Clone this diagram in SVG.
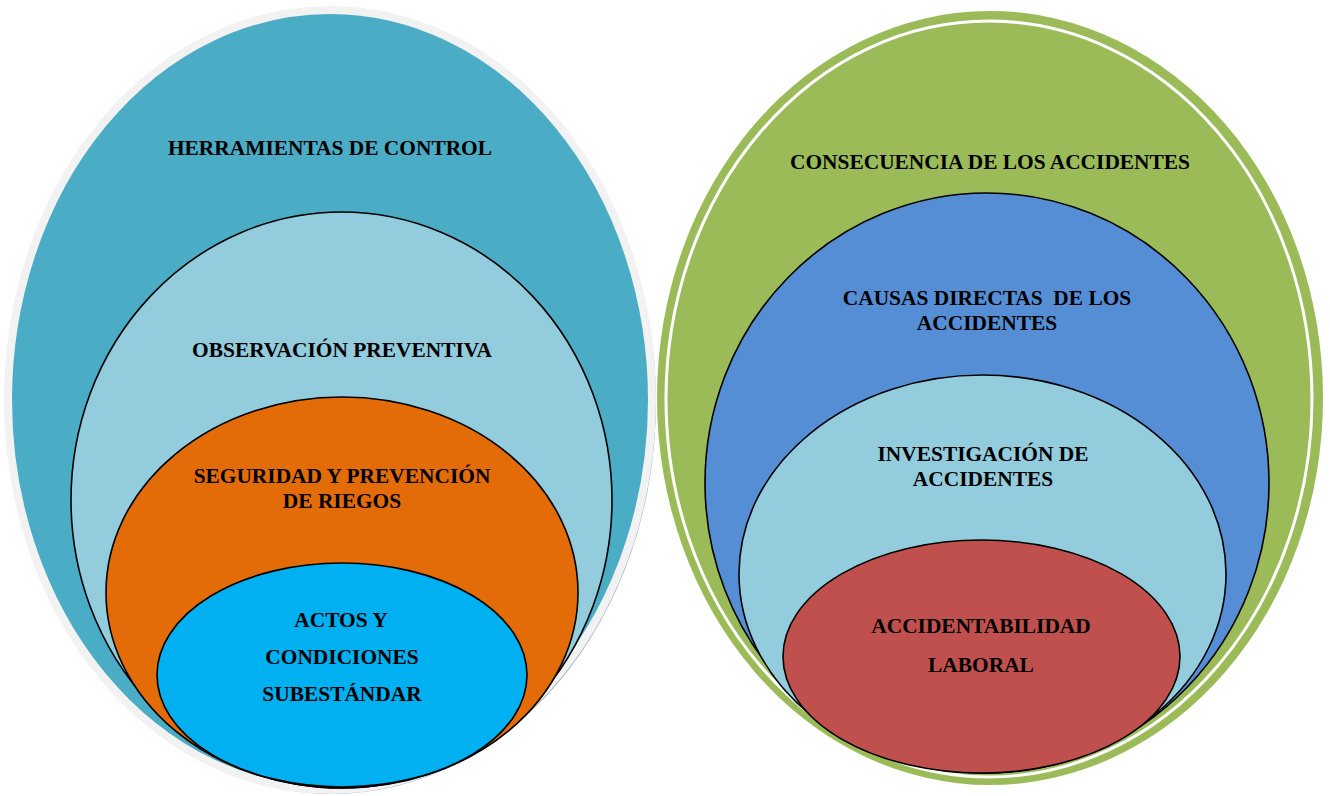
<svg xmlns="http://www.w3.org/2000/svg" width="1330" height="796" viewBox="0 0 1330 796">
<style>
.lbl{font-family:"Liberation Serif","Times New Roman",serif;font-weight:bold;font-size:21.4px;fill:#000;text-anchor:middle;white-space:pre}
.in{stroke:#000;stroke-width:1.6}
</style>
<rect width="1330" height="796" fill="#fff"/>
<g id="herramientas">
<ellipse cx="332" cy="402" rx="324" ry="392" fill="#9aafb9"/>
<ellipse cx="330" cy="400" rx="322" ry="390" fill="#4bacc6" stroke="#f2f2f2" stroke-width="8"/>
<text class="lbl" x="330" y="155">HERRAMIENTAS DE CONTROL</text>
</g>
<g id="observacion">
<ellipse class="in" cx="341.5" cy="500" rx="270.5" ry="288" fill="#93cddd"/>
<text class="lbl" x="342" y="357">OBSERVACIÓN PREVENTIVA</text>
</g>
<g id="seguridad">
<ellipse class="in" cx="342" cy="592.5" rx="236" ry="195.5" fill="#e36c09"/>
<text class="lbl" x="342" y="483">SEGURIDAD Y PREVENCIÓN</text>
<text class="lbl" x="342" y="508">DE RIEGOS</text>
</g>
<g id="actos">
<ellipse class="in" cx="342" cy="675" rx="185" ry="112" fill="#00b0f0"/>
<text class="lbl" x="341" y="627">ACTOS Y</text>
<text class="lbl" x="342" y="664">CONDICIONES</text>
<text class="lbl" x="342" y="701">SUBESTÁNDAR</text>
</g>
<g id="consecuencia">
<ellipse cx="990" cy="398" rx="333" ry="387" fill="#9bbb59"/>
<ellipse cx="989" cy="399" rx="323" ry="378" fill="none" stroke="#fff" stroke-width="3"/>
<text class="lbl" x="990" y="169">CONSECUENCIA DE LOS ACCIDENTES</text>
</g>
<g id="causas">
<ellipse class="in" cx="987" cy="483" rx="282" ry="290" fill="#558ed5"/>
<text class="lbl" x="987" y="305">CAUSAS DIRECTAS  DE LOS</text>
<text class="lbl" x="987" y="330">ACCIDENTES</text>
</g>
<g id="investigacion">
<ellipse class="in" cx="982.5" cy="574" rx="243.5" ry="199" fill="#93cddd"/>
<text class="lbl" x="983" y="461">INVESTIGACIÓN DE</text>
<text class="lbl" x="983" y="486">ACCIDENTES</text>
</g>
<g id="accidentabilidad">
<ellipse class="in" cx="981.5" cy="656.5" rx="198.5" ry="116.5" fill="#c0504d"/>
<text class="lbl" x="981" y="633">ACCIDENTABILIDAD</text>
<text class="lbl" x="981" y="672">LABORAL</text>
</g>
<g id="connectors"></g>
</svg>
